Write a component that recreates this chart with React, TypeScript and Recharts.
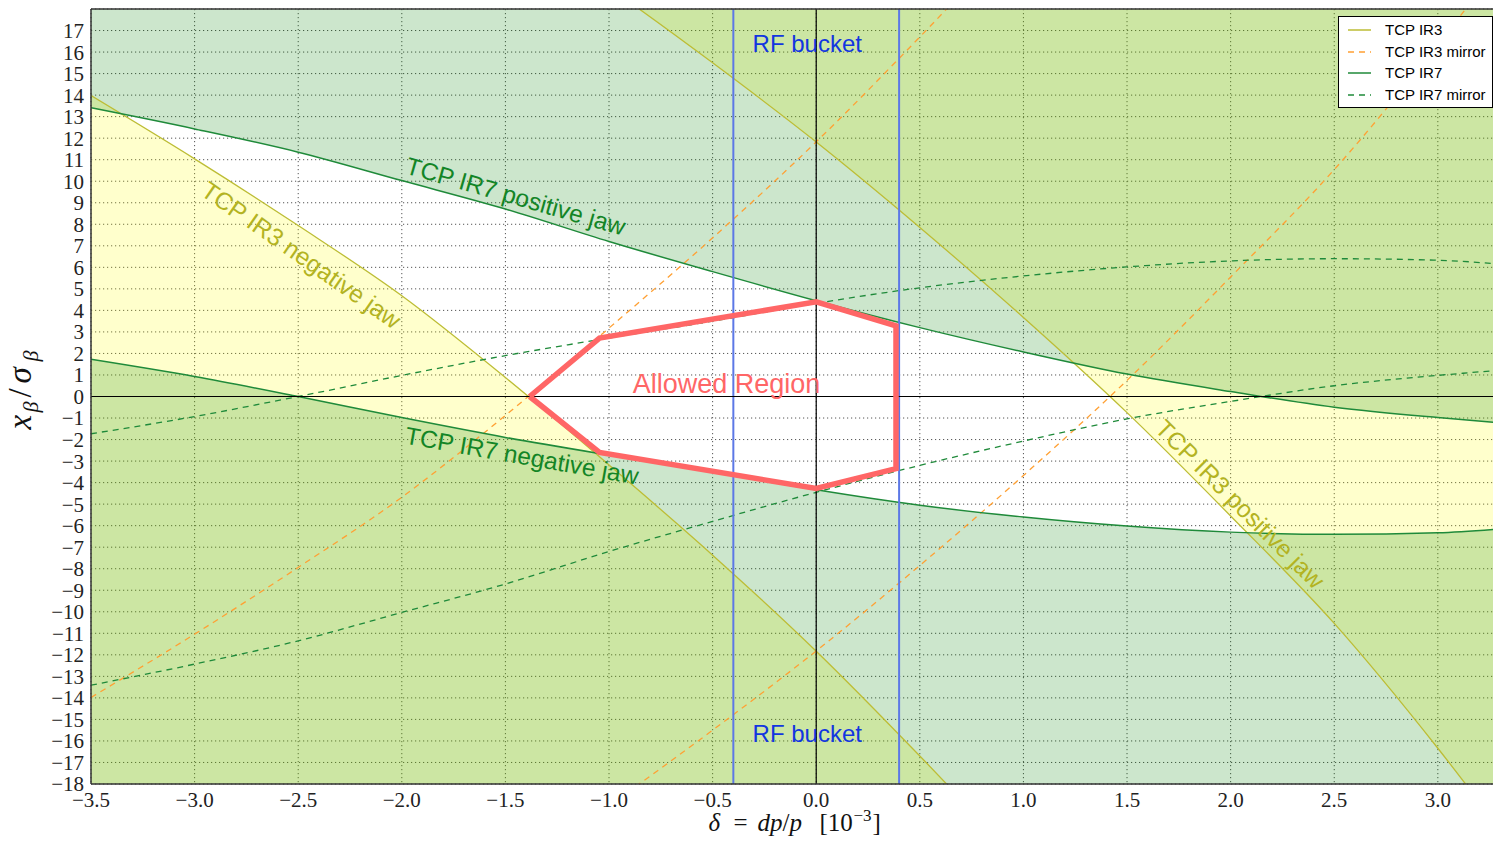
import React from 'react';
import {
  ComposedChart,
  Area,
  Line,
  XAxis,
  YAxis,
  CartesianGrid,
  ReferenceLine,
  ReferenceDot,
  Legend,
} from 'recharts';

// ---- data ----
const delta = [-3.5, -3.0, -2.5, -2.0, -1.5, -1.0, -0.5, 0.0, 0.5, 1.0, 1.5, 2.0, 2.5, 3.0, 3.3];
const ir3Positive = [34.5, 31.2, 28.2, 25.3, 22.3, 19.0, 15.5, 11.82, 7.85, 3.67, -0.75, -5.55, -10.54, -16.34, -20.1];
const ir3Negative = [13.98, 11.04, 7.94, 4.68, 0.88, -3.18, -7.37, -11.83, -16.7, -21.8, -27.0, -32.5, -38.0, -44.0, -47.0];
const ir3MirrorA = [-13.98, -11.04, -7.94, -4.68, -0.88, 3.18, 7.37, 11.83, 16.7, 21.8, 27.0, 32.5, 38.0, 44.0, 47.0];
const ir3MirrorB = [-34.5, -31.2, -28.2, -25.3, -22.3, -19.0, -15.5, -11.82, -7.85, -3.67, 0.75, 5.55, 10.54, 16.34, 20.1];
const ir7Positive = [13.41, 12.43, 11.35, 10.03, 8.71, 7.2, 5.8, 4.45, 3.2, 2.07, 1.04, 0.23, -0.5, -0.98, -1.22];
const ir7Negative = [1.73, 0.93, 0.0, -0.98, -1.9, -2.72, -3.5, -4.33, -5.05, -5.6, -6.02, -6.3, -6.4, -6.33, -6.15];
const ir7MirrorA = [-1.73, -0.93, 0.0, 0.98, 1.9, 2.72, 3.5, 4.33, 5.05, 5.6, 6.02, 6.3, 6.4, 6.33, 6.15];
const ir7MirrorB = [-13.41, -12.43, -11.35, -10.03, -8.71, -7.2, -5.8, -4.45, -3.2, -2.07, -1.04, -0.23, 0.5, 0.98, 1.22];

const rfBucket = [-0.4, 0.4];
const allowedDelta = [-1.383, -1.046, 0.0, 0.385, 0.385, 0.0, -1.046, -1.383];
const allowedX = [0.0, 2.71, 4.4, 3.28, -3.35, -4.27, -2.6, 0.0];

const xTicks = [-3.5, -3.0, -2.5, -2.0, -1.5, -1.0, -0.5, 0.0, 0.5, 1.0, 1.5, 2.0, 2.5, 3.0];
const yTicks = [-18, -17, -16, -15, -14, -13, -12, -11, -10, -9, -8, -7, -6, -5, -4, -3, -2, -1, 0, 1, 2, 3, 4, 5, 6, 7, 8, 9, 10, 11, 12, 13, 14, 15, 16, 17];
const X_MIN = -3.5;
const X_MAX = 3.3;
const Y_MIN = -18;
const Y_MAX = 18;

const annotationText = ['TCP IR7 positive jaw', 'TCP IR7 negative jaw', 'TCP IR3 negative jaw', 'TCP IR3 positive jaw', 'RF bucket', 'RF bucket', 'Allowed Region'];
const annotationDelta = [-1.45, -1.42, -2.485, 2.045, -0.043, -0.043, -0.433];
const annotationX = [9.3, -2.75, 6.57, -5.0, 16.4, -15.66, 0.57];

// ---- styles ----
const C_IR3 = '#bdbd35';
const C_IR3_TEXT = '#b3b322';
const C_ORANGE = '#ffa033';
const C_IR7 = '#1f8a3a';
const C_IR7_TEXT = '#138526';
const C_BLUE = '#5c78e6';
const C_BLUE_TEXT = '#1236e0';
const C_RED = '#ff6666';
const annotationStyle = [
  { color: C_IR7_TEXT, angle: 16, size: 24.5 },
  { color: C_IR7_TEXT, angle: 10, size: 24.5 },
  { color: C_IR3_TEXT, angle: 35, size: 24.5 },
  { color: C_IR3_TEXT, angle: 45, size: 24.5 },
  { color: C_BLUE_TEXT, angle: 0, size: 24 },
  { color: C_BLUE_TEXT, angle: 0, size: 24 },
  { color: C_RED, angle: 0, size: 27 },
];

const data = delta.map((d, i) => ({
  d,
  ir3p: ir3Positive[i],
  ir3n: ir3Negative[i],
  m3a: ir3MirrorA[i],
  m3b: ir3MirrorB[i],
  ir7p: ir7Positive[i],
  ir7n: ir7Negative[i],
  m7a: ir7MirrorA[i],
  m7b: ir7MirrorB[i],
}));

const allowedData = allowedDelta.map((d, i) => ({ d, x: allowedX[i] }));

const SANS = '"Liberation Sans", Arial, Helvetica, sans-serif';
const SERIF = '"Liberation Serif", "Times New Roman", serif';

const fmtX = (v: number) => (v < 0 ? '\u2212' : '') + Math.abs(v).toFixed(1);
const fmtY = (v: number) => (v < 0 ? '\u2212' : '') + Math.abs(v).toString();

const makeAnnotation = (i: number) => (props: any) => {
  const vb = props.viewBox || {};
  const x = vb.x ?? 0;
  const y = vb.y ?? 0;
  const st = annotationStyle[i];
  return (
    <text
      x={x}
      y={y}
      transform={`rotate(${st.angle}, ${x}, ${y})`}
      textAnchor="middle"
      dominantBaseline="central"
      fill={st.color}
      fontSize={st.size}
      fontFamily={SANS}
    >
      {annotationText[i]}
    </text>
  );
};

const xLabel = (props: any) => {
  const vb = props.viewBox || {};
  const cx = vb.x + vb.width / 2;
  const y = vb.y + 47;
  return (
    <text y={y} textAnchor="start" fontFamily={SERIF} fontSize={25} fill="#111">
      <tspan x={cx - 87} fontStyle="italic">δ</tspan>
      <tspan x={cx - 62}>=</tspan>
      <tspan x={cx - 38} fontStyle="italic">dp</tspan>
      <tspan>/</tspan>
      <tspan fontStyle="italic">p</tspan>
      <tspan x={cx + 24}>[10</tspan>
      <tspan x={cx + 58} fontSize={17} dy={-10}>{'\u22123'}</tspan>
      <tspan x={cx + 77} dy={10}>]</tspan>
    </text>
  );
};

const yLabel = (props: any) => {
  const vb = props.viewBox || {};
  const cx = vb.x + 31;
  const cy = vb.y + vb.height / 2 - 11;
  return (
    <text
      y={cy}
      transform={`rotate(-90, ${cx}, ${cy})`}
      textAnchor="start"
      fontFamily={SERIF}
      fontSize={33}
      fill="#111"
    >
      <tspan x={cx - 44} fontStyle="italic">x</tspan>
      <tspan x={cx - 27} fontStyle="italic" fontSize={22} dy={7}>β</tspan>
      <tspan x={cx - 12} dy={-7}>/</tspan>
      <tspan x={cx + 2} fontStyle="italic">σ</tspan>
      <tspan x={cx + 24} fontStyle="italic" fontSize={22} dy={7}>β</tspan>
    </text>
  );
};

const legendItems = [
  { name: 'TCP IR3', color: C_IR3, dash: undefined as string | undefined },
  { name: 'TCP IR3 mirror', color: C_ORANGE, dash: '6 5' },
  { name: 'TCP IR7', color: C_IR7, dash: undefined },
  { name: 'TCP IR7 mirror', color: C_IR7, dash: '6 5' },
];

const LegendBox = () => (
  <div
    style={{
      width: 153,
      height: 90,
      border: '1px solid #000',
      background: '#fff',
      boxSizing: 'content-box',
      position: 'relative',
    }}
  >
    {legendItems.map((it, i) => (
      <div key={i} style={{ position: 'absolute', left: 0, top: 3 + i * 21.6, height: 20, width: 153 }}>
        <svg width={40} height={20} style={{ position: 'absolute', left: 0, top: 0 }}>
          <line x1={9} x2={32} y1={10} y2={10} stroke={it.color} strokeWidth={1.5} strokeDasharray={it.dash} />
        </svg>
        <span
          style={{
            position: 'absolute',
            left: 46,
            top: 1,
            fontFamily: SANS,
            fontSize: 15,
            lineHeight: '18px',
            color: '#000',
            whiteSpace: 'nowrap',
          }}
        >
          {it.name}
        </span>
      </div>
    ))}
  </div>
);

export default function App() {
  return (
    <div style={{ width: 1493, height: 845, overflow: 'hidden', background: '#fff' }}>
      <style>{'body{margin:0;overflow:hidden;background:#fff}'}</style>
      <ComposedChart
        width={1500}
        height={845}
        data={data}
        margin={{ top: 9, right: 0, bottom: 0, left: 0 }}
      >
        <XAxis
          dataKey="d"
          type="number"
          domain={[X_MIN, X_MAX]}
          ticks={xTicks}
          interval={0}
          allowDataOverflow
          tickFormatter={fmtX}
          tickLine={false}
          tickSize={0}
          tickMargin={8}
          height={61}
          axisLine={{ stroke: '#333', strokeWidth: 1.5 }}
          tick={{ fontFamily: SERIF, fontSize: 21, fill: '#222' }}
          label={xLabel}
        />
        <YAxis
          type="number"
          domain={[Y_MIN, Y_MAX]}
          ticks={yTicks}
          interval={0}
          allowDataOverflow
          tickFormatter={fmtY}
          tickLine={false}
          tickSize={0}
          tickMargin={7}
          width={91}
          axisLine={{ stroke: '#333', strokeWidth: 1.5 }}
          tick={{ fontFamily: SERIF, fontSize: 21, fill: '#222' }}
          label={yLabel}
        />
        <CartesianGrid stroke="#555" strokeWidth={1} strokeDasharray="1.2 2.8" />

        {/* IR3 cut regions (yellow) */}
        <Area
          dataKey={(r: any) => [Y_MIN, r.ir3n]}
          type="monotone"
          fill="#ffff00"
          fillOpacity={0.2}
          stroke="none"
          isAnimationActive={false}
          legendType="none"
        />
        <Area
          dataKey={(r: any) => [r.ir3p, Y_MAX]}
          type="monotone"
          fill="#ffff00"
          fillOpacity={0.2}
          stroke="none"
          isAnimationActive={false}
          legendType="none"
        />
        {/* IR7 cut regions (green) */}
        <Area
          dataKey={(r: any) => [r.ir7p, Y_MAX]}
          type="monotone"
          fill="#008000"
          fillOpacity={0.2}
          stroke="none"
          isAnimationActive={false}
          legendType="none"
        />
        <Area
          dataKey={(r: any) => [Y_MIN, r.ir7n]}
          type="monotone"
          fill="#008000"
          fillOpacity={0.2}
          stroke="none"
          isAnimationActive={false}
          legendType="none"
        />

        <Line dataKey="ir3p" type="monotone" stroke={C_IR3} strokeWidth={1.3} dot={false} isAnimationActive={false} />
        <Line dataKey="ir3n" type="monotone" stroke={C_IR3} strokeWidth={1.3} dot={false} isAnimationActive={false} />
        <Line dataKey="m3a" type="monotone" stroke={C_ORANGE} strokeWidth={1.3} strokeDasharray="6 5" dot={false} isAnimationActive={false} />
        <Line dataKey="m3b" type="monotone" stroke={C_ORANGE} strokeWidth={1.3} strokeDasharray="6 5" dot={false} isAnimationActive={false} />
        <Line dataKey="ir7p" type="monotone" stroke={C_IR7} strokeWidth={1.5} dot={false} isAnimationActive={false} />
        <Line dataKey="ir7n" type="monotone" stroke={C_IR7} strokeWidth={1.5} dot={false} isAnimationActive={false} />
        <Line dataKey="m7a" type="monotone" stroke={C_IR7} strokeWidth={1.3} strokeDasharray="6 5" dot={false} isAnimationActive={false} />
        <Line dataKey="m7b" type="monotone" stroke={C_IR7} strokeWidth={1.3} strokeDasharray="6 5" dot={false} isAnimationActive={false} />

        {rfBucket.map((v, i) => (
          <ReferenceLine key={`rf${i}`} x={v} stroke={C_BLUE} strokeWidth={2} />
        ))}
        <ReferenceLine x={0} stroke="#000" strokeWidth={1.2} />
        <ReferenceLine y={0} stroke="#000" strokeWidth={1.2} />
        <ReferenceLine y={Y_MAX} stroke="#333" strokeWidth={1.5} />

        <Line
          data={allowedData}
          dataKey="x"
          type="linear"
          stroke={C_RED}
          strokeWidth={5.5}
          strokeLinejoin="miter"
          dot={false}
          isAnimationActive={false}
          legendType="none"
        />

        {annotationText.map((t, i) => (
          <ReferenceDot
            key={`a${i}`}
            x={annotationDelta[i]}
            y={annotationX[i]}
            r={0}
            fill="none"
            stroke="none"
            label={makeAnnotation(i)}
          />
        ))}

        <Legend
          layout="horizontal"
          verticalAlign="middle"
          align="center"
          wrapperStyle={{ left: 1338, top: 16, width: 155, height: 92 }}
          content={() => <LegendBox />}
        />
      </ComposedChart>
    </div>
  );
}
